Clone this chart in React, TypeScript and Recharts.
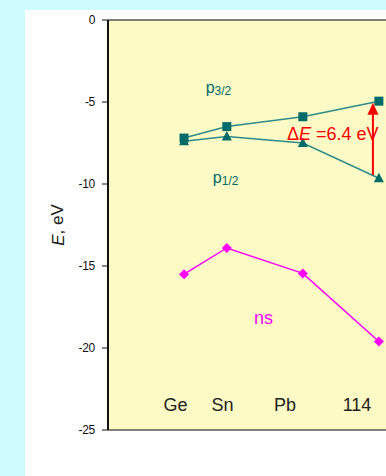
import { Line, LineChart, ReferenceDot, ReferenceLine, ReferenceArea, XAxis, YAxis } from 'recharts'

// element names, their atomic numbers and orbital energies (eV)
const elements = ['Ge', 'Sn', 'Pb', '114']
const atomicNumbers = [32, 50, 82, 114]
const p32 = [-7.2, -6.5, -5.9, -4.95]
const p12 = [-7.4, -7.1, -7.5, -9.65]
const ns = [-15.5, -13.9, -15.45, -19.6]

// where the element names sit along the x axis (they are printed a bit left of the points)
const labelPositions = [28.4, 48.2, 74.5, 104.8]
const yTicks = [-25, -20, -15, -10, -5, 0]

const data = atomicNumbers.map((z, i) => ({ z, p32: p32[i], p12: p12[i], ns: ns[i] }))

const TEAL = '#2b8c8a'
const TEAL_DARK = '#006b69'
const MAGENTA = '#ff00ff'
const FONT = '"Liberation Sans", Arial, sans-serif'

const Square = ({ cx, cy }: any) => <rect x={cx - 4.5} y={cy - 4.5} width={9} height={9} fill={TEAL_DARK} />
const Triangle = ({ cx, cy }: any) => <polygon points={`${cx},${cy - 5.5} ${cx + 5},${cy + 4} ${cx - 5},${cy + 4}`} fill={TEAL_DARK} />
const Diamond = ({ cx, cy }: any) => <polygon points={`${cx},${cy - 5} ${cx + 5},${cy} ${cx},${cy + 5} ${cx - 5},${cy}`} fill={MAGENTA} />

const orbitalLabel = (name: string, sub: string, color: string, size = 16) => ({ viewBox }: any) => (
	<text x={viewBox.x} y={viewBox.y} fill={color} fontSize={size} fontFamily={FONT} textAnchor='middle' dominantBaseline='central'>
		{name}
		{sub ? (
			<tspan fontSize={12} dy={4}>
				{sub}
			</tspan>
		) : null}
	</text>
)

const Arrow = (props: any) => {
	const { x1, y1, x2, y2 } = props
	return (
		<g>
			<line x1={x1} y1={y1} x2={x2} y2={y2 + 10} stroke='#ff0000' strokeWidth={2} />
			<polygon points={`${x2},${y2} ${x2 + 5.5},${y2 + 12} ${x2 - 5.5},${y2 + 12}`} fill='#ff0000' />
		</g>
	)
}

export default function App() {
	return (
		<div style={{ position: 'fixed', inset: 0, background: '#cdfbfe', overflow: 'hidden' }}>
			<div style={{ position: 'absolute', left: 25, top: 10, right: 0, bottom: 0, background: '#fefefe' }} />
			<div style={{ position: 'absolute', left: 0, top: 0 }}>
				<LineChart width={386} height={476} data={data} margin={{ top: 20, right: 0, bottom: 46, left: 0 }}>
					<ReferenceArea x1={0} x2={117} y1={-25} y2={0} fill='#fdfac6' fillOpacity={1} stroke='none' />
					<ReferenceLine y={0} stroke='#555' strokeWidth={1.5} />
					<XAxis
						type='number'
						dataKey='z'
						domain={[0, 117]}
						ticks={labelPositions}
						tickFormatter={(_v: number, i: number) => elements[i]}
						mirror
						tickLine={false}
						tickSize={0}
						tickMargin={19}
						axisLine={{ stroke: '#555', strokeWidth: 1.5 }}
						tick={{ fill: '#222', fontSize: 18, fontFamily: FONT }}
						allowDataOverflow
					/>
					<YAxis
						type='number'
						domain={[-25, 0]}
						ticks={yTicks}
						width={108}
						tickSize={6}
						tickMargin={7}
						axisLine={{ stroke: '#111', strokeWidth: 2 }}
						tickLine={{ stroke: '#111' }}
						tick={{ fill: '#111', fontSize: 12, fontFamily: FONT, letterSpacing: -0.3 }}
						label={{
							content: ({ viewBox }: any) => (
								<text x={57.5} y={viewBox.y + viewBox.height / 2} transform={`rotate(-90 57.5 ${viewBox.y + viewBox.height / 2})`} textAnchor='middle' dominantBaseline='central' fontSize={17} fontFamily={FONT} fill='#222'>
									<tspan fontStyle='italic'>E</tspan>, eV
								</text>
							),
						}}
					/>
					<Line dataKey='p32' stroke={TEAL} strokeWidth={1.5} dot={<Square />} isAnimationActive={false} />
					<Line dataKey='p12' stroke={TEAL} strokeWidth={1.5} dot={<Triangle />} isAnimationActive={false} />
					<Line dataKey='ns' stroke={MAGENTA} strokeWidth={1.5} dot={<Diamond />} isAnimationActive={false} />
					<ReferenceLine
						segment={[
							{ x: 111.5, y: p12[3] + 0.2 },
							{ x: 111.5, y: p32[3] - 0.1 },
						]}
						shape={<Arrow />}
					/>
					<ReferenceDot x={46.5} y={-4.1} r={0} label={{ content: orbitalLabel('p', '3/2', TEAL_DARK) }} />
					<ReferenceDot x={49.5} y={-9.6} r={0} label={{ content: orbitalLabel('p', '1/2', TEAL_DARK) }} />
					<ReferenceDot x={65.5} y={-18.2} r={0} label={{ content: orbitalLabel('ns', '', MAGENTA, 18) }} />
					<ReferenceDot
						x={75.3}
						y={-6.95}
						r={0}
						label={{
							content: ({ viewBox }: any) => (
								<text x={viewBox.x} y={viewBox.y} fill='#ff0000' fontSize={18} fontFamily={FONT} dominantBaseline='central'>
									Δ<tspan fontStyle='italic'>E</tspan> =6.4 eV
								</text>
							),
						}}
					/>
				</LineChart>
			</div>
		</div>
	)
}
